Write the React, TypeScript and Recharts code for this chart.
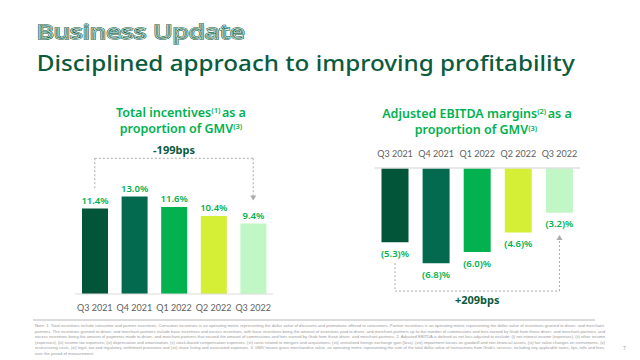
import React from 'react';
import { BarChart, Bar, XAxis, YAxis, Cell, LabelList, ReferenceLine, ReferenceDot } from 'recharts';

const quarters = ['Q3 2021', 'Q4 2021', 'Q1 2022', 'Q2 2022', 'Q3 2022'];
const incentives = [11.4, 13.0, 11.6, 10.4, 9.4];
const ebitdaMargins = [-5.3, -6.8, -6.0, -4.6, -3.2];
const barColors = ['#03553A', '#036A4F', '#03B14F', '#D4EF35', '#C0F7C5'];
const incentivesChange = '-199bps';
const ebitdaChange = '+209bps';
const footnoteLines = [
  'Note: 1. Total incentives include consumer and partner incentives. Consumer incentives is an operating metric representing the dollar value of discounts and promotions offered to consumers. Partner incentives is an operating metric representing the dollar value of incentives granted to driver- and merchant-',
  'partners. The incentives granted to driver- and merchant-partners include base incentives and excess incentives, with base incentives being the amount of incentives paid to driver- and merchant-partners up to the number of commissions and fees earned by Grab from those driver- and merchant-partners, and',
  'excess incentives being the amount of payments made to driver- and merchant-partners that exceed the amount of commissions and fees earned by Grab from those driver- and merchant-partners. 2. Adjusted EBITDA is defined as net loss adjusted to exclude: (i) net interest income (expenses), (ii) other income',
  '(expenses), (iii) income tax expenses, (iv) depreciation and amortization, (v) stock-based compensation expenses, (vi) costs related to mergers and acquisitions, (vii) unrealized foreign exchange gain (loss), (viii) impairment losses on goodwill and non-financial assets, (ix) fair value changes on investments, (x)',
  "restructuring costs, (xi) legal, tax and regulatory settlement provisions and (xii) share listing and associated expenses. 3. GMV means gross merchandise value, an operating metric representing the sum of the total dollar value of transactions from Grab's services, including any applicable taxes, tips, tolls and fees,",
  'over the period of measurement.',
];

const incentivesData = quarters.map((q, i) => ({ quarter: q, value: incentives[i] }));
const ebitdaData = quarters.map((q, i) => ({ quarter: q, value: ebitdaMargins[i] }));

const FONT = '"Noto Sans", sans-serif';
const TICKFONT = 'Lato, sans-serif';
const NOTEFONT = '"Liberation Sans Narrow", "Liberation Sans", sans-serif';
const GREEN = '#00B14F';
const DARK = '#0B5B3E';
const BRACKET = '#ABABAB';

const BelowLabel = (props: any) => {
  const { x, y, width, height, value } = props;
  const bottom = Math.max(Number(y), Number(y) + Number(height));
  return (
    <text x={Number(x) + Number(width) / 2} y={bottom + 11} textAnchor="middle" dominantBaseline="central"
      fill={GREEN} fontSize={9.5} fontWeight={600} fontFamily={FONT}>
      {`(${Math.abs(value).toFixed(1)})%`}
    </text>
  );
};

const DownArrow = (props: any) => {
  const { cx, cy } = props;
  return <path d={`M${cx - 3},${cy - 4} L${cx + 3},${cy - 4} L${cx},${cy + 1} Z`} fill={BRACKET} />;
};
const UpArrow = (props: any) => {
  const { cx, cy } = props;
  return <path d={`M${cx - 3},${cy + 4} L${cx + 3},${cy + 4} L${cx},${cy - 1} Z`} fill={BRACKET} />;
};

export default function App() {
  return (
    <div style={{ position: 'fixed', left: 0, top: 0, width: 640, height: 360, background: '#fff', overflow: 'hidden', fontFamily: FONT }}>
      <svg width={640} height={360} style={{ position: 'absolute', left: 0, top: 0 }}>
        <text x={36.7} y={39} fontSize={19.5} fontWeight={500} textLength={208} lengthAdjust="spacingAndGlyphs"
          fill="#fff" stroke={DARK} strokeWidth={1.6} fontFamily={FONT}>Business Update</text>
        <text x={36.7} y={39} fontSize={19.5} fontWeight={500} textLength={208} lengthAdjust="spacingAndGlyphs"
          fill="none" stroke="#fff" strokeWidth={0.55} fontFamily={FONT}>Business Update</text>
        <text x={36.7} y={70.5} fontSize={22.5} fontWeight={500} textLength={538} lengthAdjust="spacingAndGlyphs"
          fill={DARK} fontFamily={FONT}>Disciplined approach to improving profitability</text>

        <text x={181} y={117} textAnchor="middle" fontSize={12.5} fontWeight={600} fill={GREEN} fontFamily={FONT}>
          Total incentives<tspan fontSize={7.5} dy={-4}>(1)</tspan><tspan dx={1.5} dy={4}>as a</tspan>
        </text>
        <text x={181} y={132.5} textAnchor="middle" fontSize={12.5} fontWeight={600} fill={GREEN} fontFamily={FONT}>
          proportion of GMV<tspan fontSize={7.5} dy={-3.5}>(3)</tspan>
        </text>
        <text x={477} y={118} textAnchor="middle" fontSize={12.5} fontWeight={600} fill={GREEN} fontFamily={FONT}>
          Adjusted EBITDA margins<tspan fontSize={7.5} dy={-4}>(2)</tspan><tspan dx={1.5} dy={4}>as a</tspan>
        </text>
        <text x={476} y={134} textAnchor="middle" fontSize={12.5} fontWeight={600} fill={GREEN} fontFamily={FONT}>
          proportion of GMV<tspan fontSize={7.5} dy={-3.5}>(3)</tspan>
        </text>

        <line x1={33} x2={595} y1={320} y2={320} stroke="#cfcfcf" strokeWidth={1.5} />
        {footnoteLines.map((t, i) => (
          <text key={i} x={35} y={327 + i * 5.5} fontSize={4.1} fill="#9a9a9a" fontFamily={NOTEFONT}
            {...(i < footnoteLines.length - 1 ? { textLength: 570, lengthAdjust: 'spacingAndGlyphs' } : {})}>{t}</text>
        ))}
        <text x={623} y={350} fontSize={5} fill="#9a9a9a" fontFamily={FONT}>7</text>
      </svg>

      <div style={{ position: 'absolute', left: 0, top: 0 }}>
        <BarChart width={300} height={320} data={incentivesData} margin={{ top: 144, right: 27, bottom: 6, left: 75 }}>
          <XAxis dataKey="quarter" height={20} interval={0} tickLine={false} axisLine={{ stroke: '#dcdcdc' }}
            tick={{ fill: '#606060', fontSize: 9, fontFamily: TICKFONT }} tickMargin={5} />
          <YAxis hide domain={[0, 20]} />
          <Bar dataKey="value" barSize={26} isAnimationActive={false}>
            {incentivesData.map((d, i) => <Cell key={d.quarter} fill={barColors[i]} />)}
            <LabelList dataKey="value" position="top" offset={5} formatter={(v: any) => `${Number(v).toFixed(1)}%`}
              fill={GREEN} fontSize={9.5} fontWeight={600} fontFamily={FONT} />
          </Bar>
          <ReferenceLine segment={[{ x: quarters[0], y: 18.1 }, { x: quarters[4], y: 18.1 }]} stroke={BRACKET} strokeDasharray="2 2"
            label={{ value: incentivesChange, position: 'top', offset: 4, fill: DARK, fontSize: 11, fontWeight: 700, fontFamily: FONT }} />
          <ReferenceLine segment={[{ x: quarters[0], y: 18.1 }, { x: quarters[0], y: 13.9 }]} stroke={BRACKET} strokeDasharray="2 2" />
          <ReferenceLine segment={[{ x: quarters[4], y: 18.1 }, { x: quarters[4], y: 13.1 }]} stroke={BRACKET} strokeDasharray="2 2" />
          <ReferenceDot x={quarters[4]} y={12.6} shape={DownArrow} />
        </BarChart>
      </div>

      <div style={{ position: 'absolute', left: 320, top: 0 }}>
        <BarChart width={300} height={320} data={ebitdaData} margin={{ top: 148, right: 40, bottom: 12, left: 54.5 }}>
          <XAxis dataKey="quarter" orientation="top" height={20} interval={0} tickLine={false} axisLine={{ stroke: '#e0e0e0', strokeWidth: 1.5 }}
            tick={{ fill: '#606060', fontSize: 9, fontFamily: TICKFONT }} tickMargin={5} />
          <YAxis hide domain={[-10, 0]} />
          <Bar dataKey="value" barSize={27} isAnimationActive={false}>
            {ebitdaData.map((d, i) => <Cell key={d.quarter} fill={barColors[i]} />)}
            <LabelList dataKey="value" content={BelowLabel} />
          </Bar>
          <ReferenceLine segment={[{ x: quarters[0], y: -8.79 }, { x: quarters[4], y: -8.79 }]} stroke={BRACKET} strokeDasharray="2 2"
            label={{ value: ebitdaChange, position: 'bottom', offset: 5, fill: DARK, fontSize: 11, fontWeight: 700, fontFamily: FONT }} />
          <ReferenceLine segment={[{ x: quarters[0], y: -6.8 }, { x: quarters[0], y: -8.79 }]} stroke={BRACKET} strokeDasharray="2 2" />
          <ReferenceLine segment={[{ x: quarters[4], y: -8.79 }, { x: quarters[4], y: -5.1 }]} stroke={BRACKET} strokeDasharray="2 2" />
          <ReferenceDot x={quarters[4]} y={-4.85} shape={UpArrow} />
        </BarChart>
      </div>
    </div>
  );
}
